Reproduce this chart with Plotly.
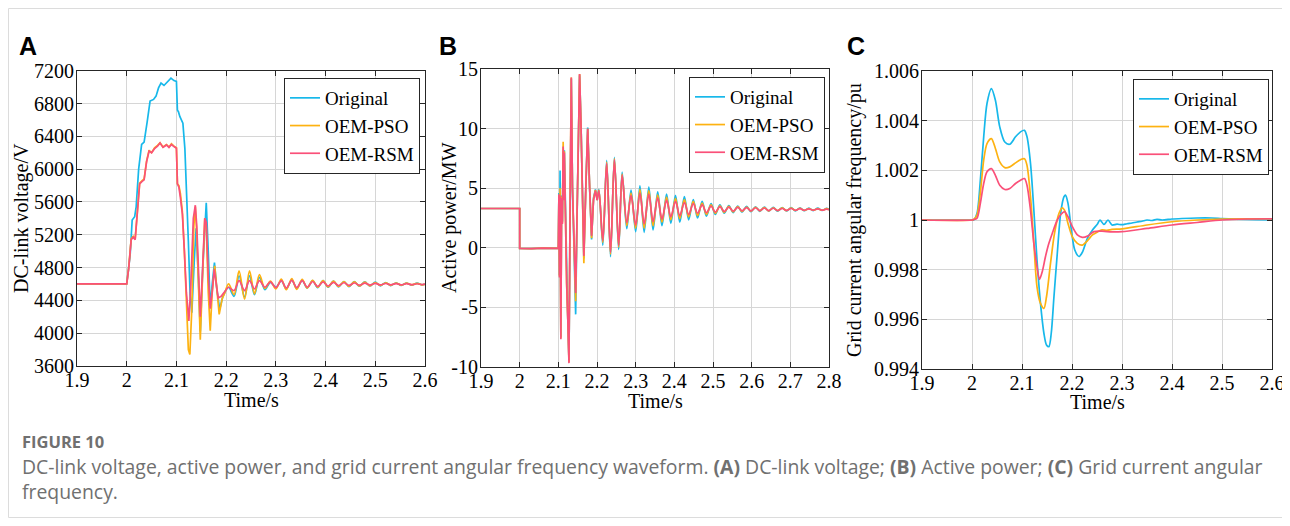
import plotly.graph_objects as go

OFF = 8  # the page body adds an 8px margin around the plot div
W, H = 1290 - OFF, 526 - 2 * OFF

# ---------------- panel A : DC-link voltage ----------------
A_t_orig = [1.9, 2.0, 2.003, 2.007, 2.011, 2.016, 2.019, 2.024, 2.03, 2.035,
            2.041, 2.047, 2.054, 2.059, 2.064, 2.069, 2.075, 2.082, 2.089, 2.095,
            2.1, 2.102, 2.104, 2.107, 2.11, 2.113, 2.117, 2.121, 2.124, 2.1275,
            2.131, 2.136, 2.1396, 2.144, 2.148, 2.153, 2.16, 2.164, 2.168, 2.172,
            2.1765, 2.181, 2.187, 2.193, 2.199]
A_orig = [4600, 4600, 4750, 4960, 5380, 5420, 5540, 6000, 6300, 6330,
          6570, 6830, 6850, 6890, 6990, 7050, 7020, 7070, 7110, 7080,
          7070, 6720, 6700, 6640, 6590, 6560, 6250, 5690, 5120, 4470,
          4250, 4900, 5280, 4700, 4020, 4800, 5590, 5000, 4310, 4600,
          4860, 4550, 4290, 4440, 4520]

A_t_pso = [1.9, 2.0, 2.004, 2.009, 2.013, 2.017, 2.021, 2.026, 2.031, 2.035,
           2.04, 2.045, 2.05, 2.056, 2.062, 2.067, 2.073, 2.08, 2.085, 2.09,
           2.095, 2.1, 2.102, 2.105, 2.108, 2.112, 2.116, 2.12, 2.124, 2.127,
           2.131, 2.135, 2.138, 2.141, 2.145, 2.148, 2.152, 2.157, 2.16, 2.164,
           2.168, 2.172, 2.177, 2.181, 2.186, 2.192, 2.198]
A_pso = [4600, 4600, 4800, 5150, 5180, 5150, 5450, 5830, 5860, 5880,
         6100, 6230, 6200, 6260, 6290, 6320, 6270, 6300, 6270, 6310,
         6280, 6260, 5820, 5800, 5700, 5480, 5000, 4300, 3800, 3740,
         4300, 5300, 5540, 5200, 4300, 3920, 4600, 5400, 5300, 4500,
         4030, 4500, 4820, 4550, 4230, 4420, 4500]

A_t_rsm = [1.9, 2.0, 2.004, 2.009, 2.013, 2.017, 2.021, 2.026, 2.031, 2.035,
           2.04, 2.045, 2.05, 2.056, 2.062, 2.067, 2.073, 2.08, 2.085, 2.09,
           2.095, 2.1, 2.102, 2.105, 2.108, 2.112, 2.116, 2.12, 2.125, 2.129,
           2.134, 2.138, 2.141, 2.145, 2.148, 2.152, 2.157, 2.16, 2.164, 2.168,
           2.172, 2.176, 2.18, 2.184, 2.19, 2.195, 2.2]
A_rsm = [4600, 4600, 4790, 5140, 5170, 5140, 5440, 5820, 5850, 5870,
         6090, 6220, 6200, 6250, 6280, 6320, 6265, 6295, 6265, 6300,
         6275, 6255, 5820, 5780, 5650, 5450, 5000, 4500, 4150, 4600,
         5400, 5560, 5300, 4600, 4200, 4700, 5400, 5350, 4700, 4300,
         4500, 4780, 4600, 4430, 4450, 4490, 4530]

# settling oscillation, peaks and troughs after 2.2 s
A_tail_t = [2.205, 2.216, 2.226, 2.237, 2.247, 2.257, 2.267, 2.278, 2.289, 2.300,
            2.311, 2.321, 2.332, 2.342, 2.353, 2.363, 2.374, 2.384, 2.395, 2.405,
            2.416, 2.426, 2.437, 2.447, 2.458, 2.468, 2.479, 2.489, 2.500, 2.510,
            2.521, 2.531, 2.542, 2.552, 2.563, 2.573, 2.584, 2.594, 2.600]
A_tail_orig = [4560, 4450, 4700, 4440, 4700, 4470, 4680, 4530, 4620, 4560,
               4640, 4540, 4650, 4545, 4645, 4550, 4640, 4555, 4640, 4560,
               4635, 4565, 4630, 4568, 4628, 4572, 4625, 4575, 4622, 4578,
               4618, 4580, 4615, 4582, 4612, 4585, 4610, 4588, 4598]
A_tail_pso = [4600, 4470, 4760, 4415, 4760, 4480, 4715, 4545, 4635, 4540,
              4660, 4530, 4665, 4535, 4655, 4550, 4645, 4560, 4640, 4565,
              4635, 4570, 4630, 4572, 4625, 4575, 4622, 4578, 4618, 4582,
              4615, 4584, 4612, 4586, 4610, 4588, 4608, 4590, 4596]
A_tail_rsm = [4560, 4520, 4640, 4520, 4640, 4540, 4640, 4560, 4625, 4555,
              4640, 4550, 4645, 4555, 4640, 4560, 4630, 4570, 4625, 4575,
              4620, 4580, 4615, 4583, 4612, 4585, 4610, 4587, 4608, 4588,
              4606, 4590, 4605, 4590, 4604, 4591, 4603, 4592, 4598]

# ---------------- panel B : active power ----------------
B_head_t = [1.9, 2.0, 2.0, 2.03, 2.06, 2.1, 2.1015, 2.103, 2.1045, 2.1065,
            2.1085, 2.1105, 2.1125, 2.114, 2.1155, 2.1185, 2.1215, 2.1245, 2.1275, 2.1305,
            2.1335, 2.1365, 2.1405, 2.1448, 2.1485, 2.1518, 2.155, 2.1585, 2.162, 2.166,
            2.171, 2.176, 2.181, 2.186, 2.191, 2.196, 2.2005]
B_head_orig = [3.3, 3.3, -0.05, -0.08, -0.04, -0.05, 4.6, -2.3, 6.5, -7.5,
               4.4, 2.2, 8.1, 4.2, 8.2, 2.2, -3.0, -6.0, -9.5, 4.2,
               14.2, 5.2, -0.5, -5.6, 2.8, 10.1, 14.5, 10.6, 4.0, -0.9,
               5.0, 10.1, 5.0, 0.7, 4.2, 4.9, 4.0]
B_head_pso = [3.3, 3.3, -0.05, -0.08, -0.04, -0.05, 4.4, -2.4, 5.0, -7.6,
              4.3, 2.1, 8.9, 4.1, 8.1, 2.1, -3.0, -6.0, -9.6, 4.1,
              14.3, 5.1, -0.3, -4.5, 2.9, 10.0, 14.6, 10.5, 4.0, -1.3,
              5.0, 10.0, 5.0, 0.8, 4.1, 4.85, 4.0]
B_head_rsm = [3.3, 3.3, -0.05, -0.08, -0.04, -0.05, 4.5, -2.5, 4.4, -7.7,
              4.2, 2.0, 8.5, 4.0, 8.0, 2.0, -3.0, -6.0, -9.7, 4.0,
              14.3, 5.0, 0.0, -3.8, 3.0, 10.0, 14.6, 10.5, 4.0, -0.7,
              5.0, 10.0, 5.0, 1.0, 4.0, 4.8, 4.0]

B_tail_t = [2.205, 2.215, 2.225, 2.235, 2.245, 2.256, 2.265, 2.277, 2.288, 2.300,
            2.311, 2.322, 2.334, 2.345, 2.357, 2.368, 2.380, 2.391, 2.403, 2.414,
            2.426, 2.437, 2.449, 2.460, 2.472, 2.483, 2.495, 2.506, 2.518, 2.529,
            2.541, 2.552, 2.564, 2.575, 2.587, 2.598, 2.610, 2.621, 2.633, 2.644,
            2.656, 2.667, 2.679, 2.690, 2.702, 2.713, 2.725, 2.736, 2.748, 2.759,
            2.771, 2.782, 2.794, 2.800]
B_tail_orig = [4.9, 0.2, 7.35, -0.75, 7.6, -0.15, 6.35, 1.6, 4.85, 1.35,
               5.2, 1.3, 5.1, 1.5, 4.7, 1.85, 4.5, 2.05, 4.4, 2.15,
               4.3, 2.35, 4.05, 2.5, 3.9, 2.65, 3.7, 2.8, 3.6, 2.9,
               3.55, 2.95, 3.5, 3.0, 3.47, 3.03, 3.44, 3.06, 3.42, 3.07,
               3.4, 3.08, 3.38, 3.09, 3.37, 3.1, 3.35, 3.11, 3.34, 3.12,
               3.33, 3.13, 3.31, 3.2]
B_tail_pso = [4.85, 0.45, 7.2, -0.55, 7.5, 0.05, 6.2, 1.85, 4.6, 1.65,
              4.9, 1.65, 4.8, 1.85, 4.45, 2.15, 4.25, 2.35, 4.15, 2.45,
              4.05, 2.6, 3.9, 2.7, 3.75, 2.8, 3.6, 2.9, 3.52, 2.98,
              3.48, 3.02, 3.45, 3.05, 3.42, 3.08, 3.4, 3.1, 3.38, 3.1,
              3.36, 3.12, 3.35, 3.12, 3.34, 3.13, 3.32, 3.14, 3.3, 3.15,
              3.29, 3.15, 3.28, 3.2]
B_tail_rsm = [4.8, 0.6, 7.1, -0.4, 7.4, 0.2, 6.1, 2.1, 4.4, 1.9,
              4.6, 2.0, 4.5, 2.2, 4.2, 2.4, 4.0, 2.6, 3.9, 2.7,
              3.8, 2.8, 3.7, 2.9, 3.6, 2.95, 3.5, 3.0, 3.45, 3.05,
              3.42, 3.08, 3.4, 3.1, 3.38, 3.1, 3.36, 3.12, 3.34, 3.12,
              3.32, 3.13, 3.3, 3.14, 3.3, 3.15, 3.28, 3.15, 3.27, 3.16,
              3.26, 3.16, 3.25, 3.2]

# ---------------- panel C : grid current angular frequency ----------------
C_t_orig = [1.9, 2.0, 2.0033, 2.01, 2.0167, 2.0234, 2.03, 2.0388, 2.0468, 2.0555,
            2.0656, 2.0756, 2.087, 2.097, 2.105, 2.11, 2.117, 2.1237, 2.13, 2.137,
            2.1438, 2.149, 2.1538, 2.1585, 2.1639, 2.1706, 2.1773, 2.184, 2.187, 2.192,
            2.1987, 2.2054, 2.214, 2.2207, 2.231, 2.241, 2.251, 2.256, 2.264, 2.272,
            2.28, 2.29, 2.30, 2.31, 2.32, 2.33, 2.34, 2.35, 2.36, 2.37,
            2.38, 2.40, 2.42, 2.45, 2.48, 2.5, 2.55, 2.6]
C_orig = [1.0, 1.0, 1.0, 1.00027, 1.0016, 1.00335, 1.00469, 1.00529, 1.00482, 1.00375,
          1.00314, 1.00305, 1.00335, 1.00355, 1.00361, 1.00335, 1.00228, 1.0004, 0.99839, 0.99664,
          0.99544, 0.99497, 0.9949, 0.99544, 0.99691, 0.99866, 1.00027, 1.00094, 1.001, 1.00067,
          0.9996, 0.9988, 0.99853, 0.9987, 0.99927, 0.9996, 0.99984, 1.0, 0.99982, 1.0,
          0.9998, 0.99983, 0.99981, 0.99985, 0.99988, 0.99992, 0.99995, 1.0, 0.99998, 1.00003,
          1.0, 1.00004, 1.00006, 1.00008, 1.00008, 1.00006, 1.00002, 1.0]

C_t_pso = [1.9, 2.0, 2.004, 2.01, 2.0167, 2.0234, 2.03, 2.0388, 2.0468, 2.0555,
           2.0656, 2.0756, 2.087, 2.097, 2.105, 2.11, 2.117, 2.1237, 2.13, 2.137,
           2.1438, 2.149, 2.157, 2.165, 2.174, 2.1806, 2.185, 2.192, 2.2007, 2.2107,
           2.2207, 2.231, 2.241, 2.251, 2.26, 2.27, 2.28, 2.3, 2.35, 2.4,
           2.45, 2.5, 2.55, 2.6]
C_pso = [1.0, 1.0, 1.00003, 1.0002, 1.0011, 1.00241, 1.00308, 1.00328, 1.00288, 1.00234,
         1.00211, 1.00214, 1.0023, 1.00243, 1.00247, 1.0022, 1.00094, 0.99906, 0.99731, 0.99664,
         0.99644, 0.99691, 0.99825, 0.99946, 1.00027, 1.00049, 1.0004, 0.99986, 0.99932, 0.99906,
         0.99899, 0.99917, 0.9994, 0.99952, 0.9996, 0.99958, 0.99962, 0.99964, 0.9998, 0.99993,
         1.0, 1.00004, 1.00005, 1.00005]

C_t_rsm = [1.9, 2.0, 2.005, 2.01, 2.0167, 2.0234, 2.03, 2.0388, 2.0468, 2.0555,
           2.0656, 2.0756, 2.087, 2.097, 2.105, 2.11, 2.117, 2.1237, 2.13, 2.135,
           2.1405, 2.147, 2.1538, 2.1605, 2.1706, 2.1786, 2.185, 2.192, 2.2007, 2.2107,
           2.2207, 2.231, 2.244, 2.26, 2.28, 2.3, 2.35, 2.4, 2.45, 2.5,
           2.55, 2.6]
C_rsm = [1.0, 1.0, 1.00003, 1.00007, 1.00067, 1.00147, 1.00194, 1.00207, 1.0018, 1.0014,
         1.00123, 1.00127, 1.00147, 1.0016, 1.00167, 1.0014, 1.0004, 0.99906, 0.99812, 0.99761,
         0.99792, 0.99853, 0.99906, 0.99946, 1.0, 1.00024, 1.00034, 1.00013, 0.99973, 0.9994,
         0.9993, 0.99935, 0.99953, 0.99955, 0.99952, 0.99953, 0.99966, 0.9998, 0.9999, 1.0,
         1.00004, 1.00005]

# ---------------- ticks ----------------
A_xticks = [1.9, 2.0, 2.1, 2.2, 2.3, 2.4, 2.5, 2.6]
A_xlabels = ["1.9", "2", "2.1", "2.2", "2.3", "2.4", "2.5", "2.6"]
B_xticks = [1.9, 2.0, 2.1, 2.2, 2.3, 2.4, 2.5, 2.6, 2.7, 2.8]
B_xlabels = ["1.9", "2", "2.1", "2.2", "2.3", "2.4", "2.5", "2.6", "2.7", "2.8"]
A_yticks = [3600, 4000, 4400, 4800, 5200, 5600, 6000, 6400, 6800, 7200]
A_ylabels = ["3600", "4000", "4400", "4800", "5200", "5600", "6000", "6400", "6800", "7200"]
B_yticks = [-10, -5, 0, 5, 10, 15]
B_ylabels = ["-10", "-5", "0", "5", "10", "15"]
C_yticks = [0.994, 0.996, 0.998, 1.0, 1.002, 1.004, 1.006]
C_ylabels = ["0.994", "0.996", "0.998", "1", "1.002", "1.004", "1.006"]

names = ["Original", "OEM-PSO", "OEM-RSM"]
colors = ["#17B8EA", "#FDB211", "#FA5079"]

SERIF = "Liberation Serif"


# page pixel -> paper fraction
def px(x):
    return (x - OFF) / W


def py(y):
    return 1 - (y - OFF) / H


fig = go.Figure()


def add(xa, ya, head_t, head_v, tail_t, tail_v, i, legend):
    # transient part drawn with straight segments, settling part smoothed
    fig.add_trace(go.Scatter(x=head_t, y=head_v, mode="lines", name=names[i],
                             line=dict(color=colors[i], width=1.7),
                             xaxis=xa, yaxis=ya, legend=legend, showlegend=False,
                             legendgroup=names[i]))
    fig.add_trace(go.Scatter(x=[head_t[-1]] + tail_t, y=[head_v[-1]] + tail_v,
                             mode="lines", name=names[i],
                             line=dict(color=colors[i], width=1.7, shape="spline", smoothing=0.9),
                             xaxis=xa, yaxis=ya, legend=legend, legendgroup=names[i]))


add("x", "y", A_t_orig, A_orig, A_tail_t, A_tail_orig, 0, "legend")
add("x", "y", A_t_pso, A_pso, A_tail_t, A_tail_pso, 1, "legend")
add("x", "y", A_t_rsm, A_rsm, A_tail_t, A_tail_rsm, 2, "legend")

add("x2", "y2", B_head_t, B_head_orig, B_tail_t, B_tail_orig, 0, "legend2")
add("x2", "y2", B_head_t, B_head_pso, B_tail_t, B_tail_pso, 1, "legend2")
add("x2", "y2", B_head_t, B_head_rsm, B_tail_t, B_tail_rsm, 2, "legend2")

# panel C is smooth everywhere: whole curve as one spline
for i, (t, v) in enumerate([(C_t_orig, C_orig), (C_t_pso, C_pso), (C_t_rsm, C_rsm)]):
    fig.add_trace(go.Scatter(x=t, y=v, mode="lines", name=names[i],
                             line=dict(color=colors[i], width=1.7, shape="spline", smoothing=0.8),
                             xaxis="x3", yaxis="y3", legend="legend3"))

axis_style = dict(showline=True, linecolor="#262626", linewidth=1, mirror="ticks",
                  ticks="inside", ticklen=5, tickcolor="#262626",
                  showgrid=True, gridcolor="#d6d6d6", gridwidth=1, zeroline=False,
                  automargin=False,
                  tickmode="array", tickfont=dict(family=SERIF, size=20, color="black"))
x_style = dict(axis_style, ticklabelstandoff=-4)
y_style = dict(axis_style, ticklabelstandoff=-2)

legend_style = dict(xanchor="right", yanchor="top", bgcolor="white",
                    bordercolor="#262626", borderwidth=1, tracegroupgap=0,
                    font=dict(family=SERIF, size=19, color="black"))

fig.update_layout(
    width=W, height=H,
    margin=dict(l=0, r=0, t=0, b=0, pad=0, autoexpand=False),
    paper_bgcolor="white", plot_bgcolor="white",
    xaxis=dict(x_style, domain=[px(77), px(425)], range=[1.9, 2.6], anchor="y",
               tickvals=A_xticks, ticktext=A_xlabels),
    yaxis=dict(y_style, domain=[py(366), py(70.7)], range=[3600, 7200], anchor="x",
               tickvals=A_yticks, ticktext=A_ylabels),
    xaxis2=dict(x_style, domain=[px(481), px(829)], range=[1.9, 2.8], anchor="y2",
                tickvals=B_xticks, ticktext=B_xlabels),
    yaxis2=dict(y_style, domain=[py(366.7), py(69.3)], range=[-10, 15], anchor="x2",
                tickvals=B_yticks, ticktext=B_ylabels),
    xaxis3=dict(x_style, domain=[px(922), px(1272)], range=[1.9, 2.6], anchor="y3",
                tickvals=A_xticks, ticktext=A_xlabels),
    yaxis3=dict(y_style, domain=[py(369), py(71)], range=[0.994, 1.006], anchor="x3",
                tickvals=C_yticks, ticktext=C_ylabels),
    legend=dict(legend_style, x=px(420), y=py(78)),
    legend2=dict(legend_style, x=px(825), y=py(77)),
    legend3=dict(legend_style, x=px(1269), y=py(79)),
)

# light frame around the whole figure, kept inside the visible plot div
fig.add_shape(type="rect", xref="paper", yref="paper",
              x0=px(8.5), x1=px(1286.5), y0=py(8.5), y1=py(517.5),
              line=dict(color="#dcdcdc", width=1))

title_font = dict(family=SERIF, size=20, color="black")
notes = [
    ("DC-link voltage/V", 21, 218, -90),
    ("Time/s", 251, 400, 0),
    ("Active power/MW", 449, 218, -90),
    ("Time/s", 655, 401, 0),
    ("Grid current angular frequency/pu", 854, 220, -90),
    ("Time/s", 1097, 402, 0),
]
for text, x, y, ang in notes:
    fig.add_annotation(text=text, x=px(x), y=py(y), xref="paper", yref="paper",
                       showarrow=False, textangle=ang, font=title_font,
                       xanchor="center", yanchor="middle")

for text, x in [("A", 17), ("B", 437), ("C", 845)]:
    fig.add_annotation(text="<b>%s</b>" % text, x=px(x), y=py(46), xref="paper", yref="paper",
                       showarrow=False, xanchor="left", yanchor="middle",
                       font=dict(family="Liberation Sans", size=25, color="black"))

cap_font = dict(family="Open Sans", size=19.4, color="#707070")
fig.add_annotation(text="<b>FIGURE 10</b>", x=px(20), y=py(441), xref="paper", yref="paper",
                   showarrow=False, xanchor="left", yanchor="middle",
                   font=dict(family="Open Sans", size=16.5, color="#707070"))
fig.add_annotation(text="DC-link voltage, active power, and grid current angular frequency waveform. "
                        "<b>(A)</b> DC-link voltage; <b>(B)</b> Active power; <b>(C)</b> Grid current angular",
                   x=px(20), y=py(466), xref="paper", yref="paper",
                   showarrow=False, xanchor="left", yanchor="middle", font=cap_font)
fig.add_annotation(text="frequency.", x=px(20), y=py(491), xref="paper", yref="paper",
                   showarrow=False, xanchor="left", yanchor="middle", font=cap_font)

fig.write_html("out.html")
